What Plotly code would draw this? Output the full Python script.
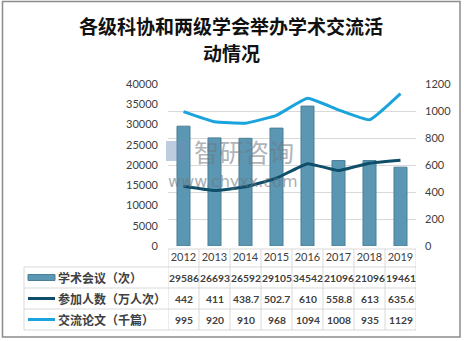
import plotly.graph_objects as go

W, H = 464, 341
years = ["2012", "2013", "2014", "2015", "2016", "2017", "2018", "2019"]
meetings = [29586, 26693, 26592, 29105, 34542, 21096, 21096, 19461]
participants = [442, 411, 438.7, 502.7, 610, 558.8, 613, 635.6]
papers = [995, 920, 910, 968, 1094, 1008, 935, 1129]
series_names = ["学术会议（次）", "参加人数（万人次）", "交流论文（千篇）"]
meeting_labels = ["29586", "26693", "26592", "29105", "34542", "21096", "21096", "19461"]
participant_labels = ["442", "411", "438.7", "502.7", "610", "558.8", "613", "635.6"]
paper_labels = ["995", "920", "910", "968", "1094", "1008", "935", "1129"]
title_lines = ["各级科协和两级学会举办学术交流活", "动情况"]

BAR = "#5b97b3"
DARK = "#0e4e68"
LIGHT = "#1aa3dc"
GRID = "#d9d9d9"
TXT = "#404040"
FONT = "Lato, 'Noto Sans CJK SC', sans-serif"

def px(x):
    return x / W

def py(y):
    return (H - y) / H

fig = go.Figure()
fig.add_trace(go.Bar(x=years, y=meetings, name=series_names[0], width=0.42,
                     marker=dict(color=BAR, line=dict(color="#4a7f97", width=1)),
                     yaxis="y"))
fig.add_trace(go.Scatter(x=years, y=participants, name=series_names[1], mode="lines",
                         line=dict(color=DARK, width=3, shape="spline", smoothing=0.35),
                         yaxis="y2"))
fig.add_trace(go.Scatter(x=years, y=papers, name=series_names[2], mode="lines",
                         line=dict(color=LIGHT, width=3, shape="spline", smoothing=0.35),
                         yaxis="y2"))

x0p, x1p = 168, 416
ytop, ybot = 84, 246

fig.update_layout(
    template="none",
    width=W, height=H, margin=dict(l=0, r=0, t=0, b=0, pad=0),
    paper_bgcolor="white", plot_bgcolor="white", showlegend=False,
    font=dict(family=FONT, color=TXT, size=11),
    xaxis=dict(domain=[px(x0p), px(x1p)], type="category", range=[-0.5, 7.5],
               showgrid=False, showline=False, zeroline=False, ticks="", automargin=False,
               tickfont=dict(size=11, color=TXT), ticklabelstandoff=3),
    yaxis=dict(domain=[py(ybot), py(ytop)], range=[0, 40000], dtick=5000, tickformat="d",
               showgrid=False, zeroline=False, showline=False, ticks="", automargin=False,
               tickfont=dict(size=11, color=TXT), ticklabelstandoff=9),
    yaxis2=dict(overlaying="y", side="right", range=[0, 1200], dtick=200, tickformat="d",
                showgrid=True, gridcolor=GRID, gridwidth=1, zeroline=False, automargin=False,
                showline=False, ticks="", tickfont=dict(size=11, color=TXT),
                ticklabelstandoff=8, layer="below traces"),
)

def ann(text, x, y, xref="paper", xanchor="center", size=11, color=TXT, family=None, opacity=1):
    f = dict(size=size, color=color)
    if family:
        f["family"] = family
    fig.add_annotation(text=text, xref=xref, yref="paper", x=x, y=y, xanchor=xanchor,
                       yanchor="middle", showarrow=False, font=f, opacity=opacity)

# title
for k, yy in enumerate([25, 53]):
    ann("<b>" + title_lines[k] + "</b>", px(231), py(yy), size=19, color="#111111",
        family="'Noto Sans CJK SC', serif")

# watermark
ann("智研咨询", px(244), py(151), size=25, color="#6f7780", family="'Noto Sans CJK SC'", opacity=0.55)
ann("www.chyxx.com", px(232), py(181), size=16, color="#6f7780", family="'DejaVu Sans'", opacity=0.6)
fig.add_shape(type="rect", xref="paper", yref="paper", x0=px(166), x1=px(186),
              y0=py(161), y1=py(141), fillcolor="#6f8fb8", opacity=0.45, line=dict(width=0))

# table
t_head_top, t_rows = 249, [267, 288, 309, 330]
tbl_left = 24
lc = dict(color=GRID, width=1)
fig.add_shape(type="line", xref="x", yref="paper", x0=-0.5, x1=7.5,
              y0=py(t_head_top), y1=py(t_head_top), line=lc)
for yy in t_rows:
    fig.add_shape(type="line", xref="paper", yref="paper", x0=px(tbl_left), x1=px(x1p),
                  y0=py(yy), y1=py(yy), line=lc)
for i in range(len(years) + 1):
    fig.add_shape(type="line", xref="x", yref="paper", x0=i - 0.5, x1=i - 0.5,
                  y0=py(t_head_top), y1=py(t_rows[-1]), line=lc)
fig.add_shape(type="line", xref="paper", yref="paper", x0=px(tbl_left), x1=px(tbl_left),
              y0=py(t_rows[0]), y1=py(t_rows[-1]), line=lc)

row_vals = [meeting_labels, participant_labels, paper_labels]
for r, vals in enumerate(row_vals):
    yc = (t_rows[r] + t_rows[r + 1]) / 2
    for i, v in enumerate(vals):
        ann("<b>" + v + "</b>", i, py(yc), xref="x", size=10.3)
    ann("<b>" + series_names[r] + "</b>", px(56), py(yc), xanchor="left", size=12,
        family="'Noto Sans CJK SC'")
yc0 = (t_rows[0] + t_rows[1]) / 2
fig.add_shape(type="rect", xref="paper", yref="paper", x0=px(28), x1=px(55),
              y0=py(yc0 + 3), y1=py(yc0 - 3), fillcolor=BAR, line=dict(color="#4a7f97", width=1))
for r, col in [(1, DARK), (2, LIGHT)]:
    yc = (t_rows[r] + t_rows[r + 1]) / 2
    fig.add_shape(type="line", xref="paper", yref="paper", x0=px(28), x1=px(55),
                  y0=py(yc), y1=py(yc), line=dict(color=col, width=3))

fig.add_shape(type="rect", xref="paper", yref="paper", x0=px(2.5), x1=px(460),
              y0=py(337), y1=py(1.5), line=dict(color="#8c8c8c", width=1.5))

fig.write_html("out.html")
